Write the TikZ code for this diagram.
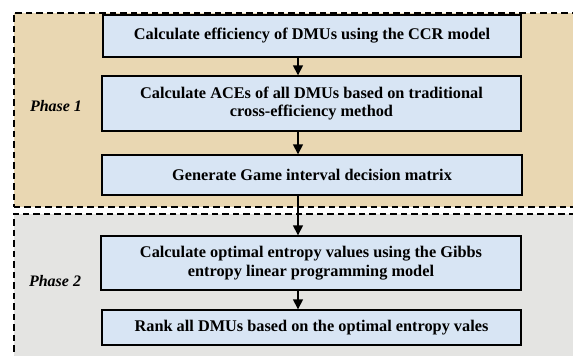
\documentclass[tikz,border=0pt]{standalone}
\usepackage{fontspec}
\setmainfont{Liberation Serif}
\usetikzlibrary{arrows.meta}

\definecolor{phaseonebg}{HTML}{E9D7B2}
\definecolor{phasetwobg}{HTML}{E4E4E2}
\definecolor{stepfill}{HTML}{D8E5F4}

\tikzset{
  phasebox/.style={draw=black, line width=1.6pt, dash pattern=on 6.5pt off 4pt, anchor=north west, inner sep=0pt},
  stepbox/.style={draw=black, line width=1.4pt, fill=stepfill, align=center, inner sep=2pt,
                  font=\fontsize{16.3}{18.5}\selectfont\bfseries},
  phaselabel/.style={font=\fontsize{16}{19}\selectfont\bfseries\itshape},
  flowarrow/.style={draw=black, line width=1.6pt, -{Triangle[length=10pt,width=10pt]}}
}

\begin{document}
\begin{tikzpicture}[x=1pt,y=-1pt]
  \useasboundingbox (0,0) rectangle (573,356);
  \clip (0,0) rectangle (573,356);

  % phase frames
  \node[phasebox, fill=phaseonebg, minimum width=600pt, minimum height=194pt] (p1) at (13,12) {};
  \node[phasebox, fill=phasetwobg, minimum width=600pt, minimum height=170pt] (p2) at (13,213) {};

  \node[phaselabel] (l1) at (56,106) {Phase 1};
  \node[phaselabel] (l2) at (55,281) {Phase 2};

  % process steps
  \node[stepbox, minimum width=418pt, minimum height=42pt] (s1) at (312,36)
    {Calculate efficiency of DMUs using the CCR model};
  \node[stepbox, minimum width=419pt, minimum height=55pt] (s2) at (311.5,103.5)
    {Calculate ACEs of all DMUs based on traditional\\cross-efficiency method};
  \node[stepbox, minimum width=420pt, minimum height=40pt] (s3) at (312,175)
    {Generate Game interval decision matrix};
  \node[stepbox, minimum width=420pt, minimum height=54pt] (s4) at (311,263)
    {Calculate optimal entropy values using the Gibbs\\entropy linear programming model};
  \node[stepbox, minimum width=419pt, minimum height=35pt] (s5) at (311.5,327.5)
    {Rank all DMUs based on the optimal entropy vales};

  % arrows run along one vertical line
  \coordinate (ax) at (298,0);
  \draw[flowarrow] (s1.south -| ax) -- (s2.north -| ax);
  \draw[flowarrow] (s2.south -| ax) -- (s3.north -| ax);
  \draw[flowarrow] (s3.south -| ax) -- (s4.north -| ax);
  \draw[flowarrow] (s4.south -| ax) -- (s5.north -| ax);
\end{tikzpicture}
\end{document}
